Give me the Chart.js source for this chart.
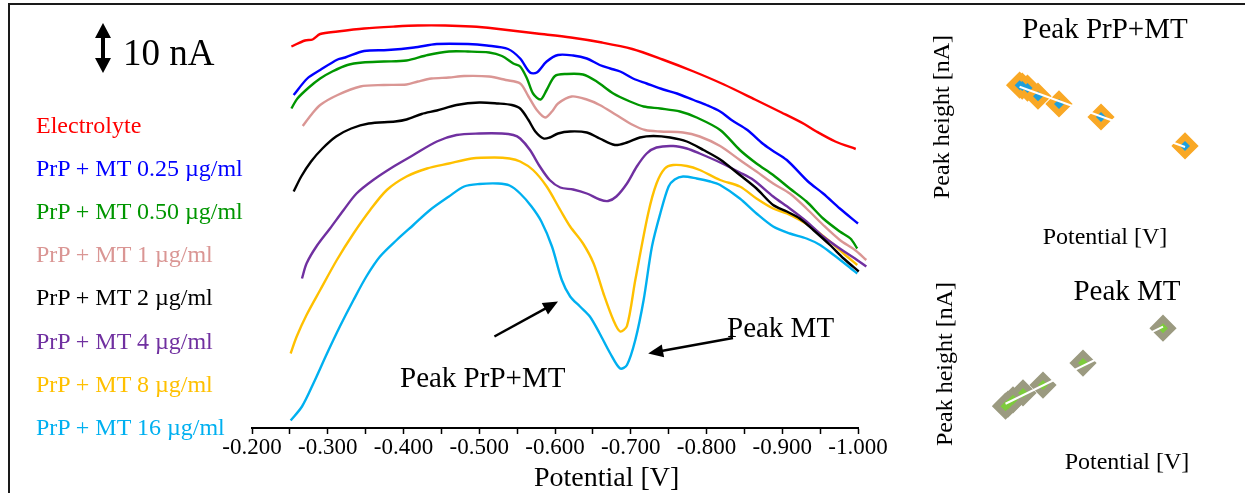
<!DOCTYPE html>
<html>
<head>
<meta charset="utf-8">
<title>Voltammograms PrP + MT</title>
<script src="https://cdn.jsdelivr.net/npm/chart.js@4.4.1/dist/chart.umd.min.js"></script>
<style>
html, body { margin: 0; padding: 0; background: #fff; overflow: hidden; }
body { position: relative; width: 1245px; height: 493px; font-family: "Liberation Serif", "Times New Roman", serif; }
canvas { position: absolute; }
.txt { position: absolute; white-space: nowrap; line-height: 1; color: #000; }
#frameTop { position: absolute; left: 8px; top: 3px; width: 1237px; height: 2px; background: #1a1a1a; }
#frameLeft { position: absolute; left: 8px; top: 3px; width: 2px; height: 490px; background: #1a1a1a; }
</style>
</head>
<body>
<div id="frameTop"></div>
<div id="frameLeft"></div>
<canvas id="mainChart" width="905" height="493" style="left:0;top:0"></canvas>
<canvas id="prpChart" width="320" height="255" style="left:925px;top:0"></canvas>
<canvas id="mtChart" width="336" height="238" style="left:928px;top:255px"></canvas>
<div id="legend"></div>
<div class="txt" style="left:123px;top:34px;font-size:37px">10 nA</div>
<div class="txt" style="left:400px;top:363px;font-size:29px">Peak PrP+MT</div>
<div class="txt" style="left:727px;top:313px;font-size:29px">Peak MT</div>
<div class="txt" style="left:534px;top:463px;font-size:28px">Potential [V]</div>
<script>
// curves: [potential V, current nA]
var seriesNames = ['Electrolyte', 'PrP + MT 0.25 µg/ml', 'PrP + MT 0.50 µg/ml', 'PrP + MT 1 µg/ml',
  'PrP + MT 2 µg/ml', 'PrP + MT 4 µg/ml', 'PrP + MT 8 µg/ml', 'PrP + MT 16 µg/ml'];
var seriesColors = ['#ff0000', '#0000ff', '#009600', '#da9694', '#000000', '#7030a0', '#ffc000', '#00b0f0'];

var electrolyte = [[-0.252,76.3],[-0.270,77.5],[-0.280,77.7],[-0.290,78.8],[-0.313,79.3],[-0.348,79.9],[-0.389,80.3],
  [-0.419,80.5],[-0.455,80.5],[-0.490,80.3],[-0.520,79.9],[-0.576,78.9],[-0.621,78.1],[-0.662,77.1],[-0.702,75.8],
  [-0.742,73.7],[-0.783,71.3],[-0.823,68.7],[-0.864,65.7],[-0.899,63.1],[-0.929,60.8],[-0.944,59.4],[-0.970,57.3],[-0.997,55.8]];
var mt025 = [[-0.255,66.6],[-0.273,69.9],[-0.290,71.6],[-0.313,73.7],[-0.323,74.1],[-0.348,75.4],[-0.379,75.6],[-0.414,76.1],
  [-0.444,76.8],[-0.485,76.8],[-0.510,76.5],[-0.538,75.8],[-0.554,73.9],[-0.567,71.1],[-0.576,71.1],[-0.589,73.3],[-0.604,74.6],
  [-0.624,74.5],[-0.642,73.9],[-0.659,72.6],[-0.673,71.9],[-0.686,71.3],[-0.703,69.9],[-0.721,68.9],[-0.743,67.7],[-0.761,66.9],
  [-0.783,65.6],[-0.800,64.6],[-0.818,63.3],[-0.833,61.6],[-0.854,59.6],[-0.874,56.9],[-0.886,55.6],[-0.906,53.6],[-0.934,49.3],
  [-0.954,46.9],[-0.976,43.9],[-1.000,40.9]];
var mt050 = [[-0.252,63.9],[-0.260,65.9],[-0.275,68.1],[-0.290,69.9],[-0.306,71.3],[-0.326,72.6],[-0.346,73.1],[-0.374,73.3],
  [-0.404,73.5],[-0.432,74.6],[-0.460,75.3],[-0.485,75.3],[-0.513,75.1],[-0.530,74.4],[-0.545,72.9],[-0.554,72.3],[-0.563,69.9],
  [-0.571,66.9],[-0.581,65.7],[-0.589,67.6],[-0.600,70.4],[-0.615,70.8],[-0.637,70.7],[-0.655,69.3],[-0.677,66.9],[-0.699,65.3],
  [-0.717,64.3],[-0.739,63.9],[-0.765,63.3],[-0.787,62.1],[-0.818,59.6],[-0.844,55.6],[-0.866,52.9],[-0.888,50.6],[-0.910,47.9],
  [-0.932,45.3],[-0.954,41.9],[-0.976,39.3],[-0.990,37.9],[-0.999,35.9]];
var mt1 = [[-0.267,60.4],[-0.278,62.6],[-0.290,64.6],[-0.313,66.6],[-0.343,68.3],[-0.374,68.6],[-0.404,68.7],[-0.419,69.3],
  [-0.437,69.9],[-0.460,70.1],[-0.480,70.4],[-0.513,70.3],[-0.535,69.6],[-0.554,68.9],[-0.565,66.3],[-0.576,63.6],[-0.587,62.1],
  [-0.596,63.3],[-0.604,64.9],[-0.622,66.3],[-0.642,65.7],[-0.659,64.6],[-0.681,62.6],[-0.703,60.6],[-0.719,59.6],[-0.739,59.3],
  [-0.769,59.1],[-0.791,58.3],[-0.818,56.4],[-0.844,53.6],[-0.866,51.3],[-0.888,48.9],[-0.910,46.9],[-0.932,43.9],[-0.954,40.6],
  [-0.976,37.6],[-0.996,35.6],[-1.011,33.6]];
var mt2 = [[-0.255,47.3],[-0.265,50.3],[-0.278,53.3],[-0.293,55.9],[-0.311,58.3],[-0.331,59.9],[-0.354,60.9],[-0.389,61.3],
  [-0.404,61.7],[-0.424,62.8],[-0.444,63.5],[-0.470,64.6],[-0.500,65.1],[-0.525,64.9],[-0.543,64.6],[-0.554,63.9],[-0.565,61.6],
  [-0.574,59.3],[-0.585,57.9],[-0.593,58.1],[-0.604,58.9],[-0.620,59.3],[-0.642,59.1],[-0.659,57.9],[-0.679,56.6],[-0.695,57.1],
  [-0.712,58.1],[-0.730,58.4],[-0.752,58.1],[-0.774,57.3],[-0.796,55.6],[-0.818,53.7],[-0.844,50.6],[-0.866,47.9],[-0.888,44.6],
  [-0.906,43.3],[-0.923,41.9],[-0.941,39.6],[-0.963,36.6],[-0.981,33.9],[-1.001,31.3]];
var mt4 = [[-0.266,29.9],[-0.272,32.9],[-0.285,36.3],[-0.303,39.9],[-0.321,43.6],[-0.338,46.9],[-0.360,49.6],[-0.387,52.3],
  [-0.413,54.6],[-0.444,57.3],[-0.470,58.6],[-0.500,58.9],[-0.530,58.9],[-0.545,58.6],[-0.554,57.9],[-0.567,55.6],[-0.580,52.3],
  [-0.593,49.6],[-0.607,48.1],[-0.624,47.7],[-0.642,46.9],[-0.659,45.7],[-0.670,45.4],[-0.681,46.3],[-0.695,48.9],[-0.708,52.3],
  [-0.721,54.9],[-0.734,56.1],[-0.756,56.4],[-0.774,55.9],[-0.791,54.9],[-0.818,53.1],[-0.844,51.1],[-0.862,49.6],[-0.888,46.3],
  [-0.910,43.9],[-0.932,41.3],[-0.954,38.3],[-0.976,35.9],[-0.996,33.9],[-1.011,32.3]];
var mt8 = [[-0.251,14.9],[-0.259,18.3],[-0.272,22.6],[-0.290,27.6],[-0.312,33.6],[-0.334,38.9],[-0.356,43.6],[-0.378,47.6],
  [-0.404,50.3],[-0.431,51.9],[-0.460,52.9],[-0.490,53.9],[-0.520,54.1],[-0.540,53.9],[-0.554,53.3],[-0.571,51.6],[-0.589,48.3],
  [-0.607,43.6],[-0.620,40.3],[-0.637,36.9],[-0.651,32.9],[-0.664,26.9],[-0.677,21.6],[-0.686,19.3],[-0.695,20.4],[-0.706,29.6],
  [-0.723,42.9],[-0.734,48.9],[-0.745,51.9],[-0.756,52.6],[-0.774,52.4],[-0.791,51.6],[-0.818,49.6],[-0.844,48.3],[-0.866,45.9],
  [-0.888,43.9],[-0.906,42.9],[-0.923,41.6],[-0.941,39.9],[-0.963,37.3],[-0.981,34.9],[-0.999,32.6]];
var mt16 = [[-0.251,1.5],[-0.266,4.3],[-0.281,8.9],[-0.299,14.9],[-0.316,20.3],[-0.334,25.6],[-0.351,30.3],[-0.369,34.3],
  [-0.391,37.6],[-0.413,40.6],[-0.435,43.6],[-0.460,46.3],[-0.480,48.3],[-0.500,48.8],[-0.525,48.9],[-0.540,48.5],[-0.554,46.9],
  [-0.569,44.3],[-0.582,41.3],[-0.596,36.3],[-0.609,29.6],[-0.620,26.3],[-0.633,24.3],[-0.646,22.3],[-0.659,18.9],[-0.673,14.9],
  [-0.686,11.9],[-0.695,12.6],[-0.706,17.6],[-0.717,25.6],[-0.728,36.3],[-0.739,42.9],[-0.750,48.3],[-0.758,49.7],[-0.769,50.3],
  [-0.787,49.9],[-0.805,49.3],[-0.818,48.6],[-0.844,45.9],[-0.866,42.9],[-0.888,40.3],[-0.910,38.9],[-0.932,37.9],[-0.950,36.6],
  [-0.968,34.6],[-0.985,32.6],[-0.999,30.9]];
var curves = [electrolyte, mt025, mt050, mt1, mt2, mt4, mt8, mt16];

// peak heights vs concentration (ug/ml)
var concentrations = [0.25, 0.5, 1, 2, 4, 8, 16];
var peakPrpMt = [33.2, 32.9, 32.2, 29.5, 26.9, 22.5, 12.8];
var peakMt = [1.4, 1.8, 2.7, 4.1, 5.7, 10.2, 17.3];

Chart.defaults.font.family = '"Liberation Serif", "Times New Roman", serif';
Chart.defaults.color = '#000';

// legend as coloured text
var legendBox = document.getElementById('legend');
for (var i in seriesNames) {
  var d = document.createElement('div');
  d.className = 'txt';
  d.style.left = '36px';
  d.style.top = (112.6 + 43.2 * i) + 'px';
  d.style.fontSize = '24px';
  d.style.color = seriesColors[i];
  d.textContent = seriesNames[i];
  legendBox.appendChild(d);
}

function drawArrow(ctx, x1, y1, x2, y2, head, width) {
  var a = Math.atan2(y2 - y1, x2 - x1);
  var c = Math.cos(a), s = Math.sin(a);
  ctx.beginPath();
  ctx.moveTo(x1, y1);
  ctx.lineTo(x2 - c * head * 0.8, y2 - s * head * 0.8);
  ctx.stroke();
  ctx.beginPath();
  ctx.moveTo(x2, y2);
  ctx.lineTo(x2 - head * c + width / 2 * s, y2 - head * s - width / 2 * c);
  ctx.lineTo(x2 - head * c - width / 2 * s, y2 - head * s + width / 2 * c);
  ctx.closePath();
  ctx.fill();
}

const arrowsPlugin = {
  id: 'arrows',
  afterDatasetsDraw(chart) {
    const ctx = chart.ctx;
    const xs = chart.scales.x, ys = chart.scales.y;
    ctx.save();
    ctx.strokeStyle = '#000';
    ctx.fillStyle = '#000';
    // 10 nA scale bar
    const bx = chart.chartArea.left - 149;
    const yTop = ys.getPixelForValue(81), yBot = ys.getPixelForValue(71);
    const yMid = (yTop + yBot) / 2;
    ctx.lineWidth = 4;
    drawArrow(ctx, bx, yMid, bx, yTop, 15, 16);
    drawArrow(ctx, bx, yMid, bx, yBot, 15, 16);
    // peak arrows
    ctx.lineWidth = 2.5;
    drawArrow(ctx, xs.getPixelForValue(-0.520), ys.getPixelForValue(18.3),
      xs.getPixelForValue(-0.604), ys.getPixelForValue(25.3), 15, 13);
    drawArrow(ctx, xs.getPixelForValue(-0.835), ys.getPixelForValue(18.0),
      xs.getPixelForValue(-0.723), ys.getPixelForValue(14.9), 15, 13);
    ctx.restore();
  }
};

let datasets = [];
for (let i = 0; i < curves.length; i++) {
  datasets.push({
    label: seriesNames[i],
    data: curves[i].map(p => ({x: p[0], y: p[1]})),
    borderColor: seriesColors[i],
    borderWidth: 2.4,
    pointRadius: 0,
    tension: 0.3,
    fill: false,
    clip: false
  });
}

const mainChart = new Chart(document.getElementById('mainChart'), {
  type: 'line',
  data: {datasets: datasets},
  options: {
    responsive: false,
    animation: false,
    devicePixelRatio: 1,
    events: [],
    layout: {autoPadding: false, padding: {top: 8, left: 0, right: 0, bottom: 0}},
    plugins: {legend: {display: false}, tooltip: {enabled: false}},
    scales: {
      x: {
        type: 'linear',
        min: -1.0,
        max: -0.2,
        reverse: true,
        border: {display: true, color: '#000', width: 2},
        grid: {display: true, drawOnChartArea: false, drawTicks: true, tickLength: 6, tickColor: '#000', tickWidth: 1.5},
        ticks: {
          stepSize: 0.05,
          autoSkip: false,
          maxRotation: 0,
          padding: 0,
          font: {size: 23},
          color: '#000',
          callback: function (v) {
            return Math.abs(Math.round(v * 20)) % 2 === 0 ? v.toFixed(3) : '';
          }
        },
        afterFit: function (s) { s.height = 65; }
      },
      y: {
        min: 0,
        max: 84,
        display: true,
        ticks: {display: false},
        grid: {display: false},
        border: {display: false},
        afterFit: function (s) { s.width = 252; }
      },
      yR: {
        position: 'right',
        display: true,
        ticks: {display: false},
        grid: {display: false},
        border: {display: false},
        afterFit: function (s) { s.width = 47; }
      }
    }
  },
  plugins: [arrowsPlugin]
});

function fitLine(xv, yv) {
  const n = xv.length;
  let sx = 0, sy = 0, sxx = 0, sxy = 0;
  for (let i = 0; i < n; i++) { sx += xv[i]; sy += yv[i]; sxx += xv[i] * xv[i]; sxy += xv[i] * yv[i]; }
  const slope = (n * sxy - sx * sy) / (n * sxx - sx * sx);
  const icpt = (sy - slope * sx) / n;
  return [{x: xv[0], y: icpt + slope * xv[0]}, {x: xv[n - 1], y: icpt + slope * xv[n - 1]}];
}

function peakChart(id, title, values, outer, inner, xr, yr, dims) {
  const pts = concentrations.map((c, i) => ({x: c, y: values[i]}));
  return new Chart(document.getElementById(id), {
    type: 'scatter',
    data: {
      datasets: [
        {data: fitLine(concentrations, values), showLine: true, borderColor: '#ffffff', borderWidth: 2,
          pointRadius: 0, order: 0, clip: false},
        {data: pts, pointStyle: 'rectRot', pointRadius: 5, pointBackgroundColor: inner,
          pointBorderWidth: 0, order: 1, clip: false},
        {data: pts, pointStyle: 'rectRot', pointRadius: 11.5, pointBackgroundColor: outer,
          pointBorderColor: outer, pointBorderWidth: 3, order: 2, clip: false}
      ]
    },
    options: {
      responsive: false,
      animation: false,
      devicePixelRatio: 1,
      events: [],
      layout: {autoPadding: false, padding: 0},
      plugins: {legend: {display: false}, tooltip: {enabled: false}},
      scales: {
        x: {
          type: 'linear', min: xr[0], max: xr[1],
          ticks: {display: false}, grid: {display: false}, border: {display: false},
          title: {display: true, text: 'Potential [V]', font: {size: 24}, color: '#000', padding: {top: 0, bottom: dims.xPad}},
          afterFit: function (s) { s.height = dims.bottom; }
        },
        top: {
          type: 'linear', position: 'top', min: xr[0], max: xr[1],
          ticks: {display: false}, grid: {display: false}, border: {display: false},
          title: {display: true, text: title, font: {size: 29}, color: '#000', padding: {top: dims.tPad, bottom: 0}},
          afterFit: function (s) { s.height = dims.top; }
        },
        y: {
          min: yr[0], max: yr[1],
          ticks: {display: false}, grid: {display: false}, border: {display: false},
          title: {display: true, text: 'Peak height [nA]', font: {size: 24}, color: '#000', padding: {top: 3, bottom: 0}},
          afterFit: function (s) { s.width = dims.left; }
        }
      }
    }
  });
}

peakChart('prpChart', 'Peak PrP+MT', peakPrpMt, '#f9a825', '#1e9fdc', [-4.95, 21.71], [0, 45],
  {top: 50, bottom: 71, left: 40, xPad: 3, tPad: 13});
peakChart('mtChart', 'Peak MT', peakMt, '#9b9a80', '#7dcb3c', [-1.3, 26.1], [0, 20],
  {top: 60, bottom: 80, left: 62, xPad: 16, tPad: 20});
</script>
</body>
</html>
